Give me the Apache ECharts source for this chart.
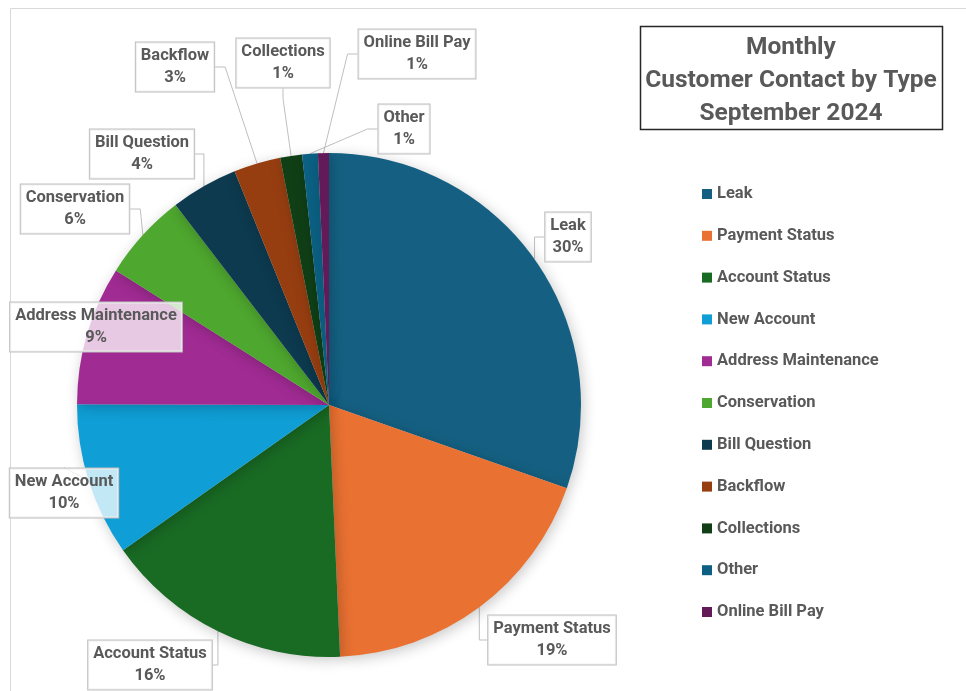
<!DOCTYPE html>
<html>
<head>
<meta charset="utf-8">
<script src="https://cdn.jsdelivr.net/npm/echarts@6/dist/echarts.min.js"></script>
<style>
  html, body { margin: 0; padding: 0; background: #fff; }
  #chart { width: 966px; height: 691px; }
</style>
</head>
<body>
<div id="chart"></div>
<script>
// contact types, in the order Excel plots them (clockwise from 12 o'clock)
var categories = ["Leak", "Payment Status", "Account Status", "New Account",
  "Address Maintenance", "Conservation", "Bill Question", "Backflow",
  "Collections", "Other", "Online Bill Pay"];
// share of contacts (%)
var shares = [30.3, 18.9, 15.9, 9.8, 8.9, 5.6, 4.3, 3.0, 1.4, 1.0, 0.7];
var colors = ["#156082", "#E97132", "#196B24", "#0F9ED5", "#A02B93", "#4EA72E",
  "#0D3A4F", "#973E11", "#103F16", "#0B6083", "#621A58"];
var titleLines = ["Monthly", "Customer Contact by Type", "September 2024"];

// where each callout box sits (centre of box)
var labelPos = {
  "Leak": [568, 237],
  "Payment Status": [552, 640],
  "Account Status": [150, 665],
  "New Account": [64, 493],
  "Address Maintenance": [96, 327],
  "Conservation": [75, 209],
  "Bill Question": [142, 154],
  "Backflow": [175, 67],
  "Collections": [283, 63],
  "Online Bill Pay": [417, 54],
  "Other": [404, 129]
};

var chart = echarts.init(document.getElementById("chart"));
var font = "Roboto, 'Noto Sans', sans-serif";

var option = {
  color: colors,
  animation: false,
  graphic: [
    {
      type: "rect",
      shape: { x: 10.5, y: 8.5, width: 1000, height: 1000 },
      style: { fill: "none", stroke: "#d9d9d9", lineWidth: 1 },
      silent: true
    },
    {
      type: "rect",
      shape: { x: 640.5, y: 26.5, width: 302, height: 103 },
      style: { fill: "#fff", stroke: "#262626", lineWidth: 1.5 },
      z: 10
    },
    {
      type: "text",
      z: 11,
      style: {
        x: 791, y: 80.5,
        text: titleLines.join("\n"),
        align: "center",
        verticalAlign: "middle",
        fill: "#595959",
        font: "bold 24.5px " + font,
        lineHeight: 33
      }
    }
  ],
  legend: {
    orient: "vertical",
    left: 697,
    top: 179,
    icon: "rect",
    itemWidth: 10,
    itemHeight: 10,
    itemGap: 21.8,
    data: categories,
    textStyle: {
      color: "#595959",
      fontFamily: font,
      fontWeight: "bold",
      fontSize: 16.5,
      lineHeight: 20
    }
  },
  series: [
    {
      type: "pie",
      center: [329, 405],
      radius: 252,
      startAngle: 90,
      clockwise: true,
      avoidLabelOverlap: false,
      itemStyle: {
        shadowBlur: 14,
        shadowColor: "rgba(0,0,0,0.22)",
        shadowOffsetX: 2,
        shadowOffsetY: 3
      },
      emphasis: { disabled: true },
      label: {
        show: true,
        position: "outside",
        formatter: function (p) {
          return p.name + "\n" + Math.round(p.percent) + "%";
        },
        color: "#595959",
        fontFamily: font,
        fontWeight: "bold",
        fontSize: 16.5,
        lineHeight: 22,
        align: "center",
        padding: [5, 5, 0, 5],
        backgroundColor: "rgba(255,255,255,0.75)",
        borderColor: "#bfbfbf",
        borderWidth: 1
      },
      labelLine: {
        show: true,
        length: 10,
        length2: 10,
        lineStyle: { color: "#bfbfbf", width: 1 }
      },
      labelLayout: function (params) {
        var name = categories[params.dataIndex];
        var pos = labelPos[name];
        return {
          x: pos[0],
          y: pos[1],
          align: "center",
          verticalAlign: "middle"
        };
      },
      data: categories.map(function (c, i) {
        return { name: c, value: shares[i] };
      })
    }
  ]
};

chart.setOption(option);
</script>
</body>
</html>
